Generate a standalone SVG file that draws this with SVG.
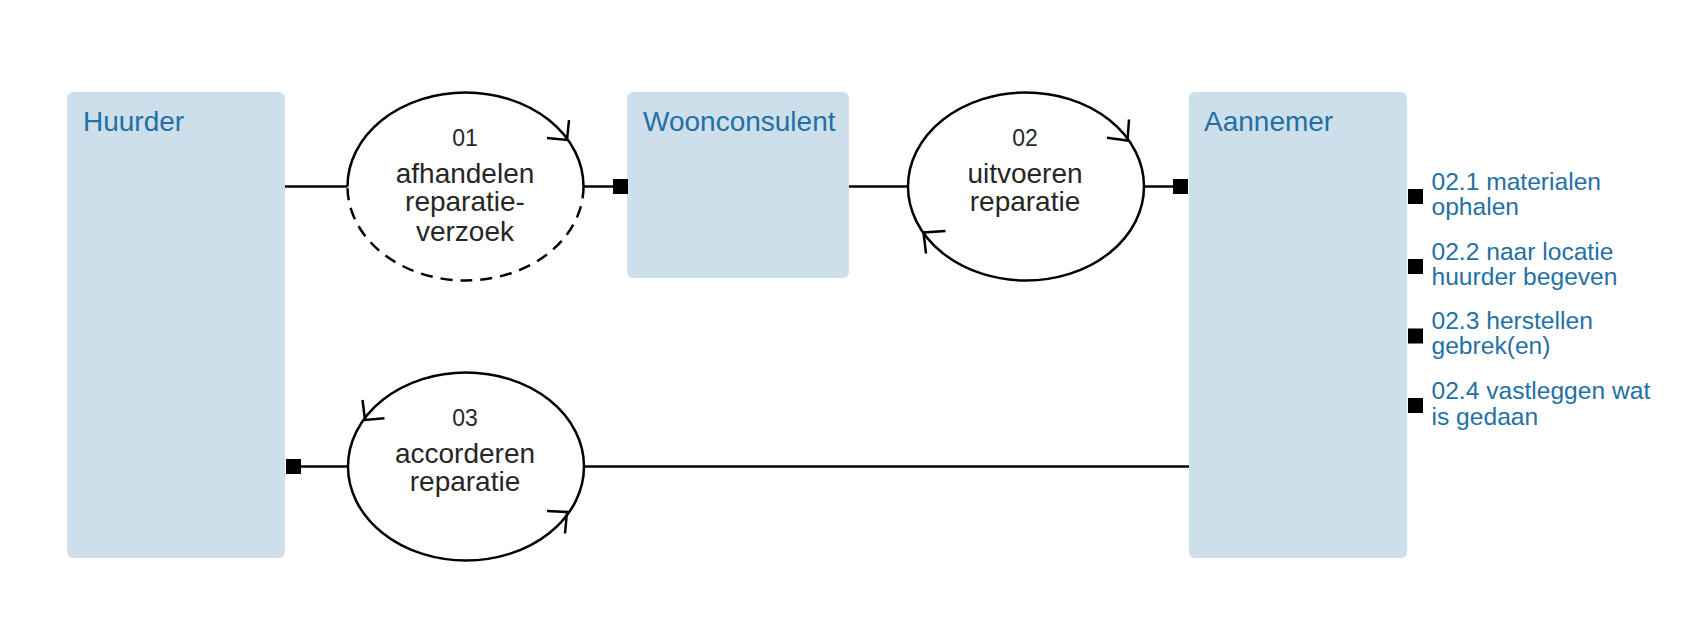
<svg xmlns="http://www.w3.org/2000/svg" width="1700" height="644" viewBox="0 0 1700 644">
<style>
.box{fill:#cddfeb;}
.title{font-family:"Liberation Sans",Arial,sans-serif;font-size:28px;fill:#2370a5;}
.sub{font-family:"Liberation Sans",Arial,sans-serif;font-size:24.6px;fill:#2370a5;}
.proc{fill:none;stroke:#000;stroke-width:2.5;}
.dash{stroke-dasharray:12,8;}
.ptxt{font-family:"Liberation Sans",Arial,sans-serif;font-size:28px;fill:#262626;text-anchor:middle;}
.pnum{font-family:"Liberation Sans",Arial,sans-serif;font-size:23px;fill:#262626;text-anchor:middle;}
.arr{fill:none;stroke:#000;stroke-width:2.5;stroke-linejoin:miter;}
.ln{stroke:#000;stroke-width:2.5;fill:none;}
.sq{fill:#000;}
</style>
<rect width="1700" height="644" fill="#fff"/>
<g id="huurder">
<rect class="box" x="67" y="92" width="218" height="466" rx="6"/>
<text class="title" x="83" y="130.5">Huurder</text>
</g>
<g id="woonconsulent">
<rect class="box" x="627" y="92" width="222" height="186" rx="6"/>
<text class="title" x="643" y="130.5">Woonconsulent</text>
</g>
<g id="aannemer">
<rect class="box" x="1189" y="92" width="218" height="466" rx="6"/>
<text class="title" x="1204" y="130.5">Aannemer</text>
</g>
<g id="p01">
<path class="proc" d="M347.5,186.5 A118,94 0 0 1 583.5,186.5"/>
<path class="proc dash" d="M583.5,186.5 A118,94 0 0 1 347.5,186.5"/>
<path class="arr" d="M569,120 L567,140 L547,138"/>
<text class="pnum" x="465" y="145.5">01</text>
<text class="ptxt" x="465" y="182.5">afhandelen</text>
<text class="ptxt" x="465" y="211">reparatie-</text>
<text class="ptxt" x="465" y="240.5">verzoek</text>
</g>
<g id="p02">
<ellipse class="proc" cx="1026" cy="186.5" rx="118" ry="94"/>
<path class="arr" d="M1129,119.5 L1127.5,140.5 L1107,137.7"/>
<path class="arr" d="M926,253.5 L923.5,232.5 L945.5,231"/>
<text class="pnum" x="1025" y="145.5">02</text>
<text class="ptxt" x="1025" y="182.5">uitvoeren</text>
<text class="ptxt" x="1025" y="210.5">reparatie</text>
</g>
<g id="p03">
<ellipse class="proc" cx="466" cy="466.5" rx="118" ry="94"/>
<path class="arr" d="M362.5,400 L365,420 L384.5,418.3"/>
<path class="arr" d="M565,533.5 L567,512 L547,511"/>
<text class="pnum" x="465" y="425.5">03</text>
<text class="ptxt" x="465" y="462.5">accorderen</text>
<text class="ptxt" x="465" y="490.5">reparatie</text>
</g>
<g id="connectors">
<line class="ln" x1="285" y1="186.5" x2="347.5" y2="186.5"/>
<line class="ln" x1="583.5" y1="186.5" x2="613" y2="186.5"/>
<rect class="sq" x="613" y="179" width="15" height="15"/>
<line class="ln" x1="849" y1="186.5" x2="908" y2="186.5"/>
<line class="ln" x1="1144" y1="186.5" x2="1174" y2="186.5"/>
<rect class="sq" x="1173" y="179" width="15" height="15"/>
<line class="ln" x1="584" y1="466.5" x2="1189" y2="466.5"/>
<line class="ln" x1="300" y1="466.5" x2="348" y2="466.5"/>
<rect class="sq" x="286" y="459" width="15" height="15"/>
</g>
<g id="subprocesses">
<rect class="sq" x="1408" y="189" width="15" height="15"/>
<text class="sub" x="1431.5" y="189.5">02.1 materialen</text>
<text class="sub" x="1431.5" y="215">ophalen</text>
<rect class="sq" x="1408" y="259" width="15" height="15"/>
<text class="sub" x="1431.5" y="259.5">02.2 naar locatie</text>
<text class="sub" x="1431.5" y="285">huurder begeven</text>
<rect class="sq" x="1408" y="328.5" width="15" height="15"/>
<text class="sub" x="1431.5" y="328.5">02.3 herstellen</text>
<text class="sub" x="1431.5" y="354">gebrek(en)</text>
<rect class="sq" x="1408" y="398" width="15" height="15"/>
<text class="sub" x="1431.5" y="399">02.4 vastleggen wat</text>
<text class="sub" x="1431.5" y="424.5">is gedaan</text>
</g>
</svg>
